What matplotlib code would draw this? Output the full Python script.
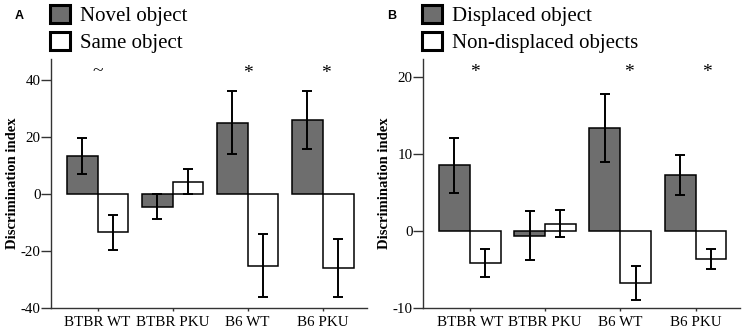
"""
object_recognition_plot.py

Discrimination index for novel object recognition (A) and
object displacement (B) in BTBR and B6 mice (WT vs PKU).
"""

import matplotlib
matplotlib.use("Agg")
import matplotlib.pyplot as plt
from matplotlib.patches import Patch

# ---- data ----
groups = ["BTBR WT", "BTBR PKU", "B6 WT", "B6 PKU"]

# Panel A: novel object recognition
novel_mean = [13.4, -4.4, 25.1, 25.9]
novel_err = [6.3, 4.4, 11.0, 10.1]
same_mean = [-13.4, 4.3, -25.1, -25.9]
same_err = [6.2, 4.4, 11.0, 10.1]
marks_a = ["~", "*", "*"]
marks_a_x = [0.0, 2.0, 3.04]
marks_a_y = [42.8, 42.2, 42.2]

# Panel B: object displacement
displaced_mean = [8.5, -0.6, 13.4, 7.3]
displaced_err = [3.6, 3.2, 4.4, 2.6]
nondisplaced_mean = [-4.2, 0.95, -6.7, -3.6]
nondisplaced_err = [1.8, 1.75, 2.2, 1.3]
marks_b = ["*", "*", "*"]
marks_b_x = [0.07, 2.11, 3.15]
marks_b_y = [20.5, 20.5, 20.5]

SERIF = "Liberation Serif"
BAR_GREY = "#6e6e6e"
SPINE = "#333333"

plt.rcParams["axes.unicode_minus"] = False


def draw_panel(ax, first_mean, first_err, second_mean, second_err,
               labels, marks, marks_x, marks_y, ylim, yticks, letter):
    """
    Draw one grouped bar panel with error bars and significance marks.
    """

    x = range(len(groups))
    width = 0.41
    left = [i - width / 2 for i in x]
    right = [i + width / 2 for i in x]

    err_style = dict(ecolor="black", elinewidth=1.4, capsize=3.3,
                     capthick=1.4)

    ax.bar(left, first_mean, width, yerr=first_err, color=BAR_GREY,
           edgecolor="black", linewidth=1.1, error_kw=err_style, zorder=2)
    ax.bar(right, second_mean, width, yerr=second_err, color="white",
           edgecolor="black", linewidth=1.1, error_kw=err_style, zorder=2)

    for text, mx, my in zip(marks, marks_x, marks_y):
        ax.text(mx, my, text, ha="center", va="center",
                fontsize=14, family=SERIF)

    ax.set_xlim(-0.62, 3.59)
    ax.set_ylim(*ylim)
    ax.set_yticks(yticks)
    ax.set_xticks(list(x))
    ax.set_xticklabels(groups, family=SERIF, fontsize=10.8)
    for lab in ax.get_yticklabels():
        lab.set_family(SERIF)
        lab.set_fontsize(10.8)

    ax.spines["top"].set_visible(False)
    ax.spines["right"].set_visible(False)
    for side in ["left", "bottom"]:
        ax.spines[side].set_color(SPINE)
        ax.spines[side].set_linewidth(1.0)
    ax.tick_params(axis="y", length=7, width=1.0, color=SPINE, pad=0.5)
    ax.tick_params(axis="x", length=2.5, width=1.0, color=SPINE, pad=3)

    ax.set_ylabel("Discrimination index", family=SERIF, fontsize=10.5,
                  fontweight="bold", labelpad=1)

    handles = [
        Patch(facecolor=BAR_GREY, edgecolor="black", linewidth=2.2),
        Patch(facecolor="white", edgecolor="black", linewidth=2.2),
    ]
    ax.legend(handles, labels, loc="lower left",
              bbox_to_anchor=(-0.033, 0.985), frameon=False,
              prop={"family": SERIF, "size": 15},
              handlelength=0.95, handleheight=0.95, handletextpad=0.5,
              labelspacing=0.28, borderpad=0.0, borderaxespad=0.45)

    ax.text(-0.10, 1.173, letter, transform=ax.transAxes,
            fontsize=9, fontweight="bold", family="Liberation Sans",
            ha="center", va="center")


def main():
    """
    Build the two-panel figure and save it.
    """

    fig = plt.figure(figsize=(7.43, 3.30), dpi=100)
    ax_a = fig.add_axes([0.0686, 0.0667, 0.4254, 0.7545])
    ax_b = fig.add_axes([0.5693, 0.0667, 0.4266, 0.7545])

    draw_panel(ax_a, novel_mean, novel_err, same_mean, same_err,
               ["Novel object", "Same object"],
               marks_a, marks_a_x, marks_a_y,
               (-40, 47.4), [-40, -20, 0, 20, 40], "A")
    draw_panel(ax_b, displaced_mean, displaced_err,
               nondisplaced_mean, nondisplaced_err,
               ["Displaced object", "Non-displaced objects"],
               marks_b, marks_b_x, marks_b_y,
               (-10, 22.3), [-10, 0, 10, 20], "B")

    fig.savefig("out.png", dpi=100)


if __name__ == "__main__":
    main()
